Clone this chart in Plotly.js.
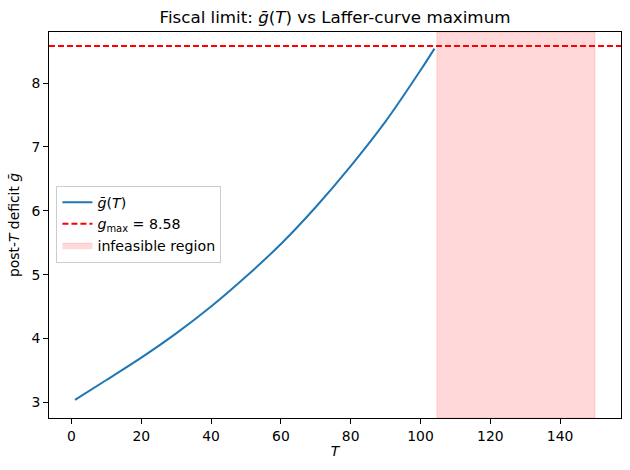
<!DOCTYPE html>
<html>
<head>
<meta charset="utf-8">
<script src="https://cdn.plot.ly/plotly-3.0.1.min.js"></script>
<style>
  html, body { margin: 0; padding: 0; background: #fff; }
  #chart { width: 630px; height: 470px; }
</style>
</head>
<body>
<div id="chart"></div>
<script>
/* -------------------- Data -------------------- */

const T = [1, 10, 20, 30, 40, 50, 60, 70, 80, 90, 100, 104];
const gBar = [3.04, 3.35, 3.70, 4.08, 4.50, 4.97, 5.48, 6.06, 6.70, 7.40, 8.20, 8.54];

const gMax = 8.58;
const infeasibleStart = 104.7;
const infeasibleEnd = 150;

const xRange = [-6.45, 157.45];
const yRange = [2.755, 8.80];
const xTicks = [0, 20, 40, 60, 80, 100, 120, 140];
const yTicks = [3, 4, 5, 6, 7, 8];

/* -------------------- Traces -------------------- */

const FONT = "DejaVu Sans, sans-serif";

const shade = {
  x: [infeasibleStart, infeasibleEnd, infeasibleEnd, infeasibleStart, infeasibleStart],
  y: [yRange[0], yRange[0], yRange[1], yRange[1], yRange[0]],
  mode: "lines",
  fill: "toself",
  fillcolor: "rgba(255,0,0,0.15)",
  line: { color: "rgba(255,0,0,0.15)", width: 1 },
  name: "infeasible region",
  legendrank: 3,
  hoverinfo: "skip",
};

const curve = {
  x: T,
  y: gBar,
  mode: "lines",
  line: { color: "#1f77b4", width: 2, shape: "spline" },
  name: "<i>ḡ</i>(<i>T</i>)",
  legendrank: 1,
};

const limit = {
  x: xRange,
  y: [gMax, gMax],
  mode: "lines",
  line: { color: "red", width: 2, dash: "6px,3px" },
  name: "<i>g</i><sub>max</sub> = " + gMax.toFixed(2),
  legendrank: 2,
};

const axisCommon = {
  showgrid: false,
  zeroline: false,
  showline: true,
  mirror: true,
  linecolor: "black",
  linewidth: 1,
  ticks: "outside",
  ticklen: 5,
  tickcolor: "black",
  tickfont: { family: FONT, size: 13.9, color: "black" },
  automargin: false,
};

const layout = {
  width: 630,
  height: 470,
  margin: { l: 49, r: 9, t: 32, b: 52 },
  paper_bgcolor: "#fff",
  plot_bgcolor: "#fff",
  font: { family: FONT, color: "black" },
  title: {
    text: "Fiscal limit: <i>ḡ</i>(<i>T</i>) vs Laffer-curve maximum",
    font: { family: FONT, size: 16.7, color: "black" },
    x: 0.5,
    xref: "paper",
    y: 1 - 17 / 470,
    yref: "container",
    yanchor: "middle",
  },
  xaxis: Object.assign({}, axisCommon, {
    range: xRange,
    tickvals: xTicks,
    title: { text: "<i>T</i>", font: { family: FONT, size: 13.9 }, standoff: 3 },
  }),
  yaxis: Object.assign({}, axisCommon, {
    range: yRange,
    tickvals: yTicks,
    title: { text: "post-<i>T</i> deficit <i>ḡ</i>", font: { family: FONT, size: 13.9 }, standoff: 8 },
  }),
  showlegend: true,
  legend: {
    x: 0.013,
    y: 0.602,
    xanchor: "left",
    yanchor: "top",
    bgcolor: "rgba(255,255,255,0.8)",
    bordercolor: "#cccccc",
    borderwidth: 1,
    font: { family: FONT, size: 14.2, color: "black" },
    traceorder: "normal",
  },
};

Plotly.newPlot("chart", [shade, curve, limit], layout, { displayModeBar: false, staticPlot: true });
</script>
</body>
</html>
